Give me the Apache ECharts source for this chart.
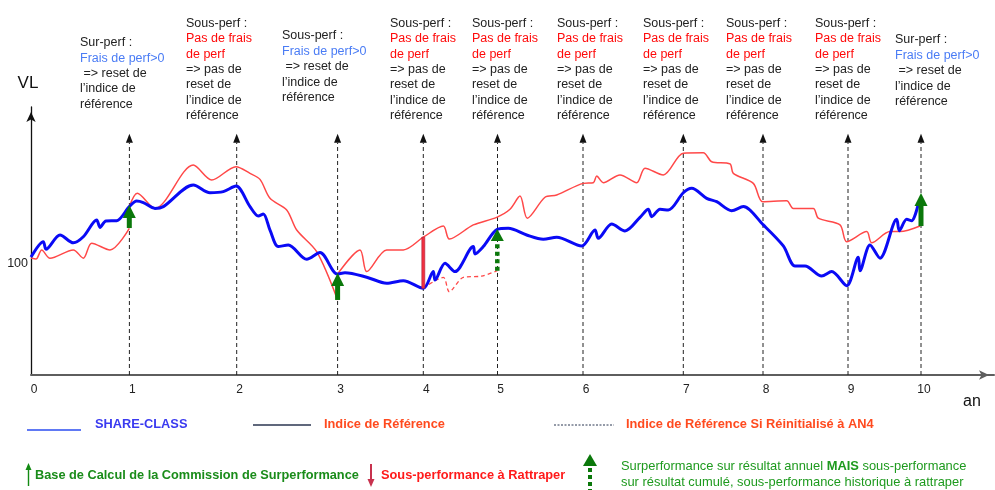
<!DOCTYPE html>
<html><head><meta charset="utf-8">
<script src="https://cdn.jsdelivr.net/npm/echarts@6/dist/echarts.min.js"></script>
<style>html,body{margin:0;padding:0;background:#fff}#c{width:995px;height:490px}</style>
</head><body><div id="c"></div>
<script>
// ---------- DATA ----------
const yearLabels = ['0','1','2','3','4','5','6','7','8','9','10'];
const yearPos = [0, 0.984, 2.057, 3.066, 3.923, 4.665, 5.52, 6.523, 7.32, 8.17, 8.90];
const yTickValues = [100];
const arrowTopValue = 158;
const axisBaseValue = 50;

const shareClass = [
[0,102.8],[0.123,109.7],[0.15,106.3],[0.29,112.7],[0.423,109.2],[0.523,111.9],[0.657,119.4],[0.69,116.1],[0.75,119.0],[0.857,119.1],
[0.983,125.4],[1.057,127.9],[1.123,127.2],[1.24,124.6],[1.323,125.4],[1.623,135.1],[1.79,131.6],[1.923,132.1],[2.05,134.6],[2.19,125.4],
[2.273,121.2],[2.323,122.1],[2.39,114.9],[2.473,107.5],[2.573,108.2],[2.757,101.8],[2.89,104.8],[3.063,95.2],[3.14,95.8],[3.357,93.8],
[3.557,91.1],[3.723,92.2],[3.923,88.8],[4.023,96.3],[4.04,92.5],[4.14,100.0],[4.24,96.3],[4.423,107.5],[4.44,104.2],[4.523,107.5],
[4.663,115.2],[4.773,115.7],[4.957,112.7],[5.123,110.8],[5.257,111.7],[5.507,107.8],[5.64,114.9],[5.673,111.2],[5.807,117.6],[5.94,114.5],
[6.09,120.6],[6.173,124.2],[6.207,120.9],[6.29,124.2],[6.373,123.9],[6.523,131.6],[6.607,133.6],[6.757,129.1],[6.857,127.6],[7.007,123.6],
[7.123,125.4],[7.323,117.2],[7.523,107.8],[7.64,98.8],[7.74,98.8],[7.907,94.3],[8.007,96.3],[8.157,90.0],[8.273,102.7],[8.29,96.7],
[8.39,108.2],[8.49,102.3],[8.657,119.7],[8.683,114.6],[8.757,119.7],[8.807,119.1],[8.873,126.6]
];
const refYear0to1 = [[0,102.4],[0.05,101.9],[0.107,106.0],[0.19,102.3],[0.423,106.0],[0.523,102.3],[0.607,109.0],[0.79,106.0],[0.983,115.7]];
const refYear1to3 = [[0.983,125.4],[1.063,131.4],[1.24,124.6],[1.623,144.0],[1.807,137.3],[2.05,143.3],[2.19,140.3],[2.29,137.6],[2.39,129.1],[2.557,123.9],[2.657,114.9],[2.857,105.2],[3.066,83.6]];
const refYear3to10 = [[3.066,95.2],[3.29,106.0],[3.357,96.3],[3.557,106.0],[3.723,106.0],[3.923,111.7],[4.123,116.7],[4.183,110.9],[4.423,117.2],[4.657,120.6],
[4.79,124.2],[4.89,130.1],[4.963,120.2],[5.14,129.6],[5.257,130.6],[5.523,135.8],[5.623,136.1],[5.657,139.1],[5.723,136.1],[5.89,139.6],
[6.057,136.1],[6.14,142.6],[6.323,139.6],[6.523,149.3],[6.723,149.5],[6.807,145.5],[6.99,144.5],[7.023,140.3],[7.223,135.8],[7.317,127.6],
[7.557,128.0],[7.623,124.6],[7.823,124.6],[7.873,120.2],[8.09,117.2],[8.157,109.7],[8.357,114.2],[8.407,109.2],[8.59,114.2],[8.69,114.2],[8.89,116.7]];
const refResetYear4 = [[3.923,88.8],[4.123,93.7],[4.183,87.3],[4.323,93.7],[4.507,94.3],[4.663,96.7]];
const feeBaseArrows = [[0.983,115.8,126.1],[3.066,83.6,95.7],[8.90,116.7,131.5]];
const catchUpBars = [[3.923,88.8,111.7]];
const historicArrows = [[4.663,96.7,115.4]];

const noteSur = {head:'Sur-perf :', fee:['Frais de perf>0'], tone:'b', tail:[' => reset de','l’indice de','référence']};
const noteSousReset = {head:'Sous-perf :', fee:['Frais de perf>0'], tone:'b', tail:[' => reset de','l’indice de','référence']};
const noteSous = {head:'Sous-perf :', fee:['Pas de frais','de perf'], tone:'r', tail:['=> pas de','reset de','l’indice de','référence']};
const notes = [noteSur, noteSous, noteSousReset, noteSous, noteSous, noteSous, noteSous, noteSous, noteSous, noteSur];

const legendTexts = {
  share:'SHARE-CLASS', ref:'Indice de Référence', refReset:'Indice de Référence Si Réinitialisé à AN4',
  base:'Base de Calcul de la Commission de Surperformance', catchUp:'Sous-performance à Rattraper',
  hist1a:'Surperformance sur résultat annuel ', hist1b:'MAIS', hist1c:' sous-performance',
  hist2:'sur résultat cumulé, sous-performance historique à rattraper'
};
const axisNames = {y:'VL', x:'an'};

// ---------- CHART ----------
const FONT = '"Liberation Sans", Arial, Helvetica, sans-serif';
const GREEN = '#0b780b';
const chart = echarts.init(document.getElementById('c'));

function yearLineItem(params, api){
  const x = api.value(0);
  const b = api.coord([x, api.value(1)]), t = api.coord([x, api.value(2)]);
  const hh = 9, hw = 7;
  return {type:'group', children:[
    {type:'line', shape:{x1:b[0],y1:b[1],x2:t[0],y2:t[1]+hh}, style:{stroke:'#222',lineWidth:1,lineDash:[4,3]}},
    {type:'polygon', shape:{points:[[t[0],t[1]],[t[0]-hw/2,t[1]+hh],[t[0]+hw/2,t[1]+hh]]}, style:{fill:'#111'}}
  ]};
}
function feeArrowItem(params, api){
  const x = api.value(0);
  const b = api.coord([x, api.value(1)]), t = api.coord([x, api.value(2)]);
  const hh = 13, hw = 13, sw = 5;
  return {type:'group', children:[
    {type:'rect', shape:{x:b[0]-sw/2, y:t[1]+hh-1, width:sw, height:b[1]-(t[1]+hh-1)}, style:{fill:GREEN}},
    {type:'polygon', shape:{points:[[t[0],t[1]],[t[0]-hw/2,t[1]+hh],[t[0]+hw/2,t[1]+hh]]}, style:{fill:GREEN}}
  ]};
}
function histArrowItem(params, api){
  const x = api.value(0);
  const b = api.coord([x, api.value(1)]), t = api.coord([x, api.value(2)]);
  const hh = 12, hw = 13;
  return {type:'group', children:[
    {type:'line', shape:{x1:b[0],y1:b[1],x2:b[0],y2:t[1]+hh+2}, style:{stroke:GREEN,lineWidth:4.5,lineDash:[4,3.5]}},
    {type:'polygon', shape:{points:[[t[0],t[1]],[t[0]-hw/2,t[1]+hh],[t[0]+hw/2,t[1]+hh]]}, style:{fill:GREEN}}
  ]};
}
function catchUpItem(params, api){
  const x = api.value(0);
  const b = api.coord([x, api.value(1)]), t = api.coord([x, api.value(2)]);
  return {type:'rect', shape:{x:b[0]-1.5, y:t[1], width:3, height:b[1]-t[1]}, style:{fill:'#f23040', stroke:'#a8203c', lineWidth:0.6}};
}

const noteLayout = [[80,35],[186,15.6],[282,28.2],[390,15.6],[472,15.6],[557,15.6],[643,15.6],[726,15.6],[815,15.6],[895,32.3]];
const noteRich = {
  h:{fill:'#222', fontSize:12.5, fontFamily:FONT, lineHeight:15.4},
  t:{fill:'#222', fontSize:12.5, fontFamily:FONT, lineHeight:15.4},
  b:{fill:'#4a7cf5', fontSize:12.5, fontFamily:FONT, lineHeight:15.4},
  r:{fill:'#ff0a0a', fontSize:12.5, fontFamily:FONT, lineHeight:15.4}
};
const graphics = notes.map((n, i) => ({
  type:'text', x:noteLayout[i][0], y:noteLayout[i][1],
  style:{
    text:[`{h|${n.head}}`].concat(n.fee.map(f=>`{${n.tone}|${f}}`), n.tail.map(t=>`{t|${t}}`)).join('\n'),
    rich:noteRich, align:'left', verticalAlign:'top'
  }
}));
function txt(x, y, text, fill, size, weight){
  return {type:'text', x, y, style:{text, fill, font:`${weight||'normal'} ${size}px ${FONT}`, align:'left', verticalAlign:'middle'}};
}
graphics.push(
  {type:'text', x:28, y:83, style:{text:axisNames.y, fill:'#111', font:`17px ${FONT}`, align:'center', verticalAlign:'middle'}},
  {type:'text', x:972, y:402, style:{text:axisNames.x, fill:'#111', font:`16px ${FONT}`, align:'center', verticalAlign:'middle'}},
  {type:'line', shape:{x1:27,y1:430,x2:81,y2:430}, style:{stroke:'#2b4cf0', lineWidth:1.5}},
  txt(95, 424, legendTexts.share, '#3a3af0', 12.8, 'bold'),
  {type:'line', shape:{x1:253,y1:425,x2:311,y2:425}, style:{stroke:'#2b3650', lineWidth:1.3}},
  txt(324, 424, legendTexts.ref, '#ff4a1e', 12.8, 'bold'),
  {type:'line', shape:{x1:554,y1:425,x2:614,y2:425}, style:{stroke:'#2b3650', lineWidth:1, lineDash:[2,1.5]}},
  txt(626, 424, legendTexts.refReset, '#ff4a1e', 12.8, 'bold'),
  {type:'line', shape:{x1:28.5,y1:486,x2:28.5,y2:469}, style:{stroke:'#138a13', lineWidth:1.4}},
  {type:'polygon', shape:{points:[[28.5,463],[25.5,470],[31.5,470]]}, style:{fill:'#138a13'}},
  txt(35, 475, legendTexts.base, '#1a8c1a', 12.75, 'bold'),
  {type:'line', shape:{x1:371,y1:464,x2:371,y2:480}, style:{stroke:'#c8324e', lineWidth:2}},
  {type:'polygon', shape:{points:[[371,487],[367.5,479],[374.5,479]]}, style:{fill:'#c8324e'}},
  txt(381, 475, legendTexts.catchUp, '#ff1a1a', 12.8, 'bold'),
  {type:'polygon', shape:{points:[[590,454],[583,466],[597,466]]}, style:{fill:GREEN}},
  {type:'line', shape:{x1:590,y1:468,x2:590,y2:490}, style:{stroke:GREEN, lineWidth:4, lineDash:[4,3]}},
  {type:'text', x:621, y:458, style:{
    text:`{g|${legendTexts.hist1a}}{gb|${legendTexts.hist1b}}{g|${legendTexts.hist1c}}\n{g|${legendTexts.hist2}}`,
    rich:{g:{fill:'#1e9a1e', fontSize:12.9, fontFamily:FONT, lineHeight:16}, gb:{fill:'#1e9a1e', fontSize:12.9, fontFamily:FONT, fontWeight:'bold', lineHeight:16}},
    align:'left', verticalAlign:'top'}}
);

const lineBase = {type:'line', showSymbol:false, symbol:'none', smooth:0.3, animation:false, silent:true};
const option = {
  animation:false,
  grid:{left:31, right:1, top:107, bottom:115, containLabel:false},
  xAxis:{type:'value', min:0, max:9.63,
    axisLine:{show:true, onZero:false, symbol:['none','arrow'], symbolSize:[7,10], symbolOffset:[0,-5], lineStyle:{color:'#5e5e5e', width:2}},
    axisTick:{show:false}, splitLine:{show:false},
    axisLabel:{customValues:yearPos, color:'#222', fontSize:12, fontFamily:FONT, margin:9, padding:[0,0,0,6],
      formatter:v => { const i = yearPos.findIndex(p => Math.abs(p - v) < 1e-6); return i >= 0 ? yearLabels[i] : ''; }}
  },
  yAxis:{type:'value', min:50, max:170,
    axisLine:{show:true, onZero:false, symbol:['none','arrow'], symbolSize:[7,10], symbolOffset:[0,-5], lineStyle:{color:'#111', width:1.3}},
    axisTick:{show:false}, splitLine:{show:false},
    axisLabel:{customValues:yTickValues, color:'#222', fontSize:12.5, fontFamily:FONT, margin:3}
  },
  graphic:graphics,
  series:[
    {type:'custom', renderItem:yearLineItem, data:yearPos.slice(1).map(x=>[x, axisBaseValue, arrowTopValue]), encode:{x:0,y:[1,2]}, clip:false, silent:true, z:1},
    Object.assign({}, lineBase, {data:refYear0to1, lineStyle:{color:'#ff4848', width:1.5}, z:2}),
    Object.assign({}, lineBase, {data:refYear1to3, lineStyle:{color:'#ff4848', width:1.5}, z:2}),
    Object.assign({}, lineBase, {data:refYear3to10, lineStyle:{color:'#ff4848', width:1.5}, z:2}),
    Object.assign({}, lineBase, {data:refResetYear4, lineStyle:{color:'#ff4848', width:1.3, type:[4,3]}, z:2}),
    Object.assign({}, lineBase, {data:shareClass, lineStyle:{color:'#0a0af5', width:3}, z:3}),
    {type:'custom', renderItem:catchUpItem, data:catchUpBars, encode:{x:0,y:[1,2]}, clip:false, silent:true, z:4},
    {type:'custom', renderItem:feeArrowItem, data:feeBaseArrows, encode:{x:0,y:[1,2]}, clip:false, silent:true, z:5},
    {type:'custom', renderItem:histArrowItem, data:historicArrows, encode:{x:0,y:[1,2]}, clip:false, silent:true, z:5}
  ]
};
chart.setOption(option);
</script></body></html>
